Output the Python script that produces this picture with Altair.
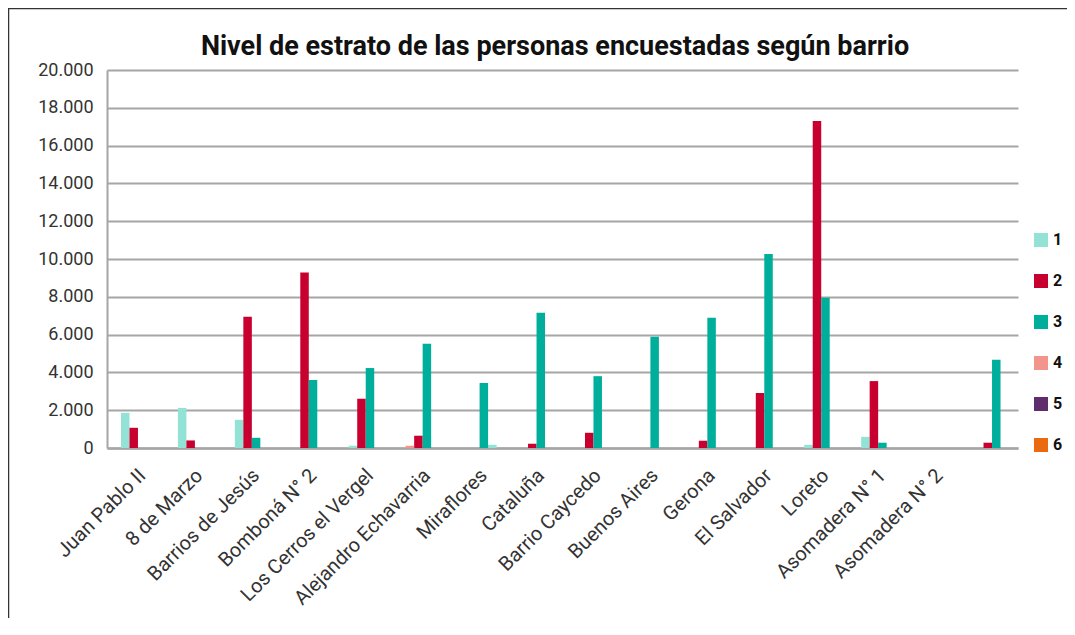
import altair as alt
import pandas as pd

# Neighbourhoods (the 16th group carries data but no label in the reference)
barrios = ["Juan Pablo II", "8 de Marzo", "Barrios de Jesús", "Bomboná N° 2",
           "Los Cerros el Vergel", "Alejandro Echavarria", "Miraflores", "Cataluña",
           "Barrio Caycedo", "Buenos Aires", "Gerona", "El Salvador", "Loreto",
           "Asomadera N° 1", "Asomadera N° 2", " "]
estratos = ["1", "2", "3", "4", "5", "6"]

estrato1 = [1860, 2120, 1490, 0, 120, 0, 170, 0, 0, 0, 0, 0, 170, 590, 0, 0]
estrato2 = [1070, 400, 6940, 9280, 2600, 650, 0, 225, 805, 0, 385, 2910, 17300, 3540, 0, 280]
estrato3 = [0, 0, 540, 3600, 4230, 5510, 3440, 7150, 3800, 5880, 6890, 10270, 7950, 280, 0, 4670]
estrato4 = [0, 0, 0, 0, 0, 120, 0, 0, 0, 0, 0, 0, 0, 0, 0, 0]
estrato5 = [0] * 16
estrato6 = [0] * 16

colores = ["#92E2D5", "#C8002F", "#00AF9B", "#F2968D", "#5F2D6B", "#E96A10"]

titulo = "Nivel de estrato de las personas encuestadas según barrio"

# column slot inside each cluster, as in the source spreadsheet order
slot_override = {("Alejandro Echavarria", "4"): "1", ("Miraflores", "1"): "4"}

rows = []
for i, b in enumerate(barrios):
    for e, serie in zip(estratos, [estrato1, estrato2, estrato3, estrato4, estrato5, estrato6]):
        v = serie[i]
        if v > 0:
            rows.append({"barrio": b, "estrato": e, "valor": v,
                         "slot": slot_override.get((b, e), e)})
df = pd.DataFrame(rows)

FONT = "Roboto"

bars = alt.Chart(df).mark_bar().encode(
    x=alt.X("barrio:N",
            scale=alt.Scale(domain=barrios, paddingInner=0, paddingOuter=0),
            axis=alt.Axis(title=None, labelAngle=-45, labelFontSize=20, labelColor="#333333",
                          labelFont=FONT, ticks=False, domain=True, domainColor="#A6A6A6",
                          domainWidth=2.5, grid=False, labelPadding=17, labelLimit=400)),
    xOffset=alt.XOffset("slot:N",
                        scale=alt.Scale(domain=["0", "1", "2", "3", "4", "5"], paddingInner=0,
                                        paddingOuter=0.35, align=0.92)),
    y=alt.Y("valor:Q",
            scale=alt.Scale(domain=[0, 20000], nice=False),
            axis=alt.Axis(title=None, values=list(range(0, 20001, 2000)),
                          labelExpr="replace(format(datum.value, ','), ',', '.')",
                          labelFontSize=18, labelColor="#333333", labelFont=FONT,
                          ticks=False, domain=True, domainColor="#A6A6A6", domainWidth=2,
                          grid=True, gridColor="#A6A6A6", gridWidth=2, labelPadding=14)),
    color=alt.Color("estrato:N",
                    scale=alt.Scale(domain=estratos, range=colores),
                    legend=alt.Legend(title=None, orient="none", legendX=926, legendY=162,
                                      symbolType="square", symbolSize=196,
                                      symbolStrokeWidth=0, labelFontSize=16,
                                      labelFontWeight="bold", labelColor="#111111",
                                      labelFont=FONT, rowPadding=25, labelOffset=4,
                                      padding=0)),
)

frame = pd.DataFrame({"k": [0]})
border = alt.Chart(frame).mark_rect(
    fillOpacity=0, stroke="#333333", strokeWidth=1.5
).encode(
    x=alt.value(-98.5), x2=alt.value(1100), y=alt.value(-61.5), y2=alt.value(700)
)

title_mark = alt.Chart(pd.DataFrame({"t": [titulo]})).mark_text(
    font=FONT, fontSize=27, fontWeight="bold", color="#111111",
    align="center", baseline="alphabetic"
).encode(x=alt.value(448), y=alt.value(-15), text="t:N")

chart = alt.layer(border, title_mark, bars).properties(
    width=911, height=378,
    padding={"left": 99, "top": 62, "right": 49, "bottom": 170},
    autosize=alt.AutoSizeParams(type="none"),
).configure_view(stroke=None)

chart.save("out.html", embed_options={"renderer": "svg", "actions": False})
